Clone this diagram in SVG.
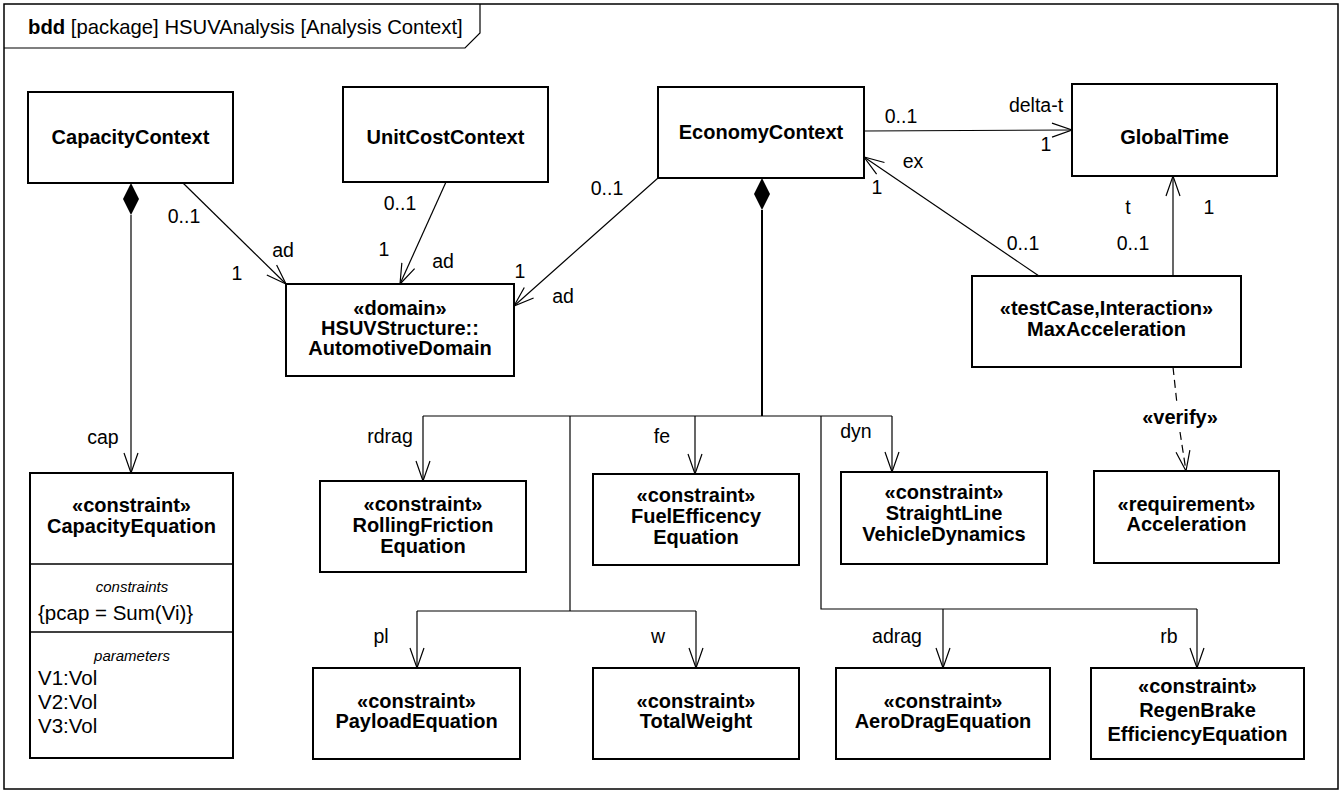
<svg xmlns="http://www.w3.org/2000/svg" width="1343" height="793" viewBox="0 0 1343 793">
<style>
text{font-family:"Liberation Sans",Arial,Helvetica,sans-serif;fill:#000}
.box{fill:#fff;stroke:#000;stroke-width:2}
.nb{font-size:20px;font-weight:bold;text-anchor:middle}
.lb{font-size:19.5px;text-anchor:middle}
.it{font-size:15px;font-style:italic;text-anchor:middle}
.tx{font-size:20.5px}
.c{fill:none;stroke:#000;stroke-width:1.2}
</style>
<defs>
<marker id="open" markerUnits="userSpaceOnUse" markerWidth="24" markerHeight="18" viewBox="-22 -9 24 18" refX="0" refY="0" orient="auto">
<path d="M-20,-7 L0,0 L-20,7" fill="none" stroke="#000" stroke-width="1.2"/>
</marker>
</defs>
<rect width="1343" height="793" fill="#fff"/>
<g id="frame">
<rect x="4" y="4" width="1334" height="785" fill="none" stroke="#000" stroke-width="1.5"/>
<path d="M4,48 H465 L480,33 V4" fill="none" stroke="#000" stroke-width="1.2"/>
<text x="28" y="34" style="font-size:20.3px"><tspan font-weight="bold">bdd</tspan> [package] HSUVAnalysis [Analysis Context]</text>
</g>
<g id="connectors">
<polygon points="131,183 139,199 131,215 123,199" fill="#000"/>
<line class="c" x1="131" y1="215" x2="131" y2="473" marker-end="url(#open)"/>
<text class="lb" x="103" y="444">cap</text>
<line class="c" x1="183" y1="183" x2="286" y2="284" marker-end="url(#open)"/>
<text class="lb" x="184" y="223">0..1</text>
<text class="lb" x="283" y="257">ad</text>
<text class="lb" x="237" y="280">1</text>
<line class="c" x1="446" y1="182" x2="400" y2="284" marker-end="url(#open)"/>
<text class="lb" x="400" y="210">0..1</text>
<text class="lb" x="384" y="256">1</text>
<text class="lb" x="443" y="268">ad</text>
<line class="c" x1="658" y1="178" x2="514" y2="306" marker-end="url(#open)"/>
<text class="lb" x="607" y="195">0..1</text>
<text class="lb" x="520" y="278">1</text>
<text class="lb" x="563" y="303">ad</text>
<line class="c" x1="864" y1="131" x2="1072" y2="130" marker-end="url(#open)"/>
<text class="lb" x="901" y="123">0..1</text>
<text class="lb" x="1036" y="112">delta-t</text>
<text class="lb" x="1046" y="151">1</text>
<line class="c" x1="1039" y1="276" x2="864" y2="157" marker-end="url(#open)"/>
<text class="lb" x="913" y="168">ex</text>
<text class="lb" x="877" y="194">1</text>
<text class="lb" x="1023" y="250">0..1</text>
<line class="c" x1="1173" y1="276" x2="1173" y2="176" marker-end="url(#open)"/>
<text class="lb" x="1128" y="214">t</text>
<text class="lb" x="1209" y="214">1</text>
<text class="lb" x="1133" y="250">0..1</text>
<line class="c" x1="1173" y1="367" x2="1177" y2="404" stroke-dasharray="8,5"/>
<line class="c" x1="1180" y1="432" x2="1186" y2="471" stroke-dasharray="8,5" marker-end="url(#open)"/>
<text class="nb" x="1180" y="424">«verify»</text>
<polygon points="762,178 770,194 762,210 754,194" fill="#000"/>
<line x1="762" y1="210" x2="762" y2="416" stroke="#000" stroke-width="2"/>
<polyline class="c" points="423,416 892,416" stroke-width="1.5"/>
<line class="c" x1="423" y1="416" x2="423" y2="481" marker-end="url(#open)"/>
<line class="c" x1="695" y1="416" x2="695" y2="474" marker-end="url(#open)"/>
<line class="c" x1="892" y1="416" x2="892" y2="472" marker-end="url(#open)"/>
<polyline class="c" points="570,416 570,611"/>
<polyline class="c" points="417,611 696,611"/>
<line class="c" x1="417" y1="611" x2="417" y2="668" marker-end="url(#open)"/>
<line class="c" x1="696" y1="611" x2="696" y2="668" marker-end="url(#open)"/>
<polyline class="c" points="821,416 821,609 1197,609"/>
<line class="c" x1="943" y1="609" x2="943" y2="668" marker-end="url(#open)"/>
<line class="c" x1="1197" y1="609" x2="1197" y2="668" marker-end="url(#open)"/>
<text class="lb" x="390" y="443">rdrag</text>
<text class="lb" x="662" y="443">fe</text>
<text class="lb" x="856" y="438">dyn</text>
<text class="lb" x="381" y="643">pl</text>
<text class="lb" x="658" y="643">w</text>
<text class="lb" x="897" y="643">adrag</text>
<text class="lb" x="1169" y="643">rb</text>
</g>
<g id="CapacityContext">
<rect class="box" x="28" y="92" width="205" height="91"/>
<text class="nb" x="130.5" y="144">CapacityContext</text>
</g>
<g id="UnitCostContext">
<rect class="box" x="343" y="87" width="205" height="95"/>
<text class="nb" x="445.5" y="144">UnitCostContext</text>
</g>
<g id="EconomyContext">
<rect class="box" x="658" y="87" width="206" height="91"/>
<text class="nb" x="761" y="139">EconomyContext</text>
</g>
<g id="GlobalTime">
<rect class="box" x="1072" y="84" width="205" height="92"/>
<text class="nb" x="1174.5" y="144">GlobalTime</text>
</g>
<g id="AutomotiveDomain">
<rect class="box" x="286" y="284" width="228" height="92"/>
<text class="nb" x="400" y="315">«domain»</text>
<text class="nb" x="400" y="335">HSUVStructure::</text>
<text class="nb" x="400" y="355">AutomotiveDomain</text>
</g>
<g id="MaxAcceleration">
<rect class="box" x="972" y="276" width="269" height="91"/>
<text class="nb" x="1106.5" y="315">«testCase,Interaction»</text>
<text class="nb" x="1106.5" y="336">MaxAcceleration</text>
</g>
<g id="CapacityEquation">
<rect class="box" x="30" y="473" width="203" height="285"/>
<line x1="30" y1="564" x2="233" y2="564" stroke="#000" stroke-width="1.5"/>
<line x1="30" y1="632" x2="233" y2="632" stroke="#000" stroke-width="1.5"/>
<text class="nb" x="131.5" y="512">«constraint»</text>
<text class="nb" x="131.5" y="533">CapacityEquation</text>
<text class="it" x="132" y="592">constraints</text>
<text class="tx" x="38" y="620">{pcap = Sum(Vi)}</text>
<text class="it" x="132" y="661">parameters</text>
<text class="tx" x="38" y="685">V1:Vol</text>
<text class="tx" x="38" y="709">V2:Vol</text>
<text class="tx" x="38" y="733">V3:Vol</text>
</g>
<g id="RollingFrictionEquation">
<rect class="box" x="320" y="481" width="206" height="91"/>
<text class="nb" x="423" y="511">«constraint»</text>
<text class="nb" x="423" y="532">RollingFriction</text>
<text class="nb" x="423" y="553">Equation</text>
</g>
<g id="FuelEfficencyEquation">
<rect class="box" x="593" y="474" width="206" height="91"/>
<text class="nb" x="696" y="502">«constraint»</text>
<text class="nb" x="696" y="523">FuelEfficency</text>
<text class="nb" x="696" y="544">Equation</text>
</g>
<g id="StraightLineVehicleDynamics">
<rect class="box" x="841" y="472" width="206" height="92"/>
<text class="nb" x="944" y="499">«constraint»</text>
<text class="nb" x="944" y="520">StraightLine</text>
<text class="nb" x="944" y="541">VehicleDynamics</text>
</g>
<g id="Acceleration">
<rect class="box" x="1094" y="471" width="185" height="92"/>
<text class="nb" x="1186.5" y="511">«requirement»</text>
<text class="nb" x="1186.5" y="531">Acceleration</text>
</g>
<g id="PayloadEquation">
<rect class="box" x="313" y="668" width="207" height="91"/>
<text class="nb" x="416.5" y="708">«constraint»</text>
<text class="nb" x="416.5" y="728">PayloadEquation</text>
</g>
<g id="TotalWeight">
<rect class="box" x="593" y="668" width="206" height="91"/>
<text class="nb" x="696" y="708">«constraint»</text>
<text class="nb" x="696" y="728">TotalWeight</text>
</g>
<g id="AeroDragEquation">
<rect class="box" x="836" y="668" width="214" height="91"/>
<text class="nb" x="943" y="708">«constraint»</text>
<text class="nb" x="943" y="728">AeroDragEquation</text>
</g>
<g id="RegenBrakeEfficiencyEquation">
<rect class="box" x="1091" y="668" width="213" height="91"/>
<text class="nb" x="1197.5" y="693">«constraint»</text>
<text class="nb" x="1197.5" y="717">RegenBrake</text>
<text class="nb" x="1197.5" y="741">EfficiencyEquation</text>
</g>
</svg>
